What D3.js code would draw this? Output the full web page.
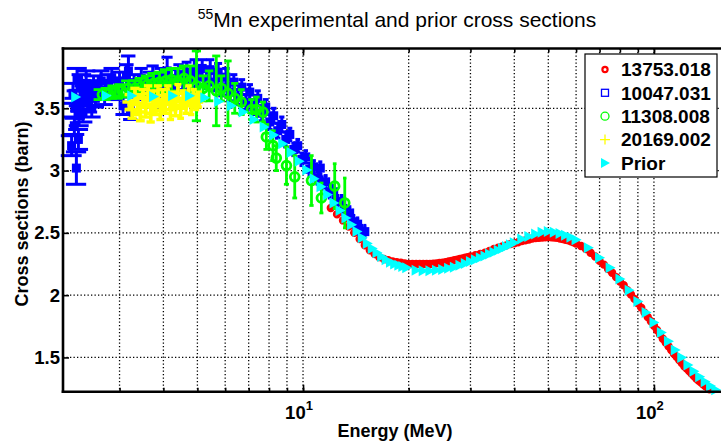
<!DOCTYPE html>
<html>
<head>
<meta charset="utf-8">
<script src="https://cdn.jsdelivr.net/npm/d3@7"></script>
<style>
  body { margin: 0; background: #fff; }
  text { font-family: "Liberation Sans", Arial, Helvetica, sans-serif; }
</style>
</head>
<body>
<script>
//**************************************************************************
//Data

const seriesNames = ["13753.018", "10047.031", "11308.008", "20169.002", "Prior"];

//prior: energy (MeV) and cross section (barn)
const priorEnergy = [2.25, 2.75, 3.25, 3.75, 4.25, 4.75, 5.25, 5.75, 6.25, 6.75, 7.25, 7.75, 8.25, 8.75,
  9.25, 9.75, 10.25, 10.75, 11.25, 11.75, 12.25, 12.75, 13.25, 13.75, 14.25, 14.75, 15.25, 15.75,
  16.25, 16.75, 17.25, 17.75, 18.25, 18.75, 19.25, 19.75, 21, 22, 23, 24, 25, 26, 27, 28, 29, 30,
  31, 32, 33, 34, 35, 36, 37, 38, 39, 40, 42, 44, 46, 48, 50, 52, 54, 56, 58, 60, 65, 70, 75, 80,
  85, 90, 95, 100, 105, 110, 115, 120, 125, 130, 135, 140, 145, 150];
const priorXS = [3.59, 3.60, 3.60, 3.595, 3.60, 3.60, 3.585, 3.555, 3.52, 3.47, 3.41, 3.35, 3.285, 3.215,
  3.145, 3.075, 3.005, 2.935, 2.87, 2.805, 2.74, 2.68, 2.62, 2.565, 2.51, 2.46, 2.415, 2.375,
  2.34, 2.31, 2.285, 2.265, 2.25, 2.24, 2.23, 2.22, 2.20, 2.195, 2.195, 2.20, 2.205, 2.215, 2.225, 2.24, 2.255, 2.27,
  2.285, 2.30, 2.315, 2.33, 2.345, 2.36, 2.375, 2.39, 2.405, 2.42, 2.45, 2.47, 2.49, 2.505, 2.51, 2.505, 2.495, 2.48, 2.465, 2.445,
  2.38, 2.30, 2.22, 2.13, 2.04, 1.95, 1.86, 1.78, 1.70, 1.63, 1.56, 1.50, 1.44, 1.39, 1.345, 1.305, 1.27, 1.24];

//13753.018 (red): [energy, cross section]
const redData = [
  [12, 2.70], [12.5, 2.65], [13, 2.60], [13.5, 2.55], [14, 2.50], [14.5, 2.45], [15, 2.40], [15.5, 2.36],
  [16, 2.33], [16.5, 2.305], [17, 2.29], [17.5, 2.28], [18, 2.27], [18.5, 2.265], [19, 2.26], [19.5, 2.255],
  [20, 2.25], [20.5, 2.25], [21, 2.25], [21.5, 2.25], [22, 2.25], [22.5, 2.25], [23, 2.25], [23.5, 2.252],
  [24, 2.255], [24.5, 2.258], [25, 2.26], [25.5, 2.265], [26, 2.27], [26.5, 2.275], [27, 2.28], [27.5, 2.285],
  [28, 2.29], [28.5, 2.295], [29, 2.30], [29.5, 2.305], [30, 2.31], [31, 2.32], [32, 2.33], [33, 2.34],
  [34, 2.355], [35, 2.37], [36, 2.38], [37, 2.39], [38, 2.40], [39, 2.41], [40, 2.417], [41, 2.425],
  [42, 2.435], [43, 2.44], [44, 2.447], [45, 2.455], [46, 2.458], [47, 2.46], [48, 2.463], [49, 2.465],
  [50, 2.466], [51, 2.465], [52, 2.463], [53, 2.46], [54, 2.455], [55, 2.45], [56, 2.445], [57, 2.44],
  [58, 2.432], [59, 2.425], [60, 2.415], [62, 2.395], [64, 2.37], [66, 2.34], [68, 2.31], [70, 2.275],
  [72, 2.245], [74, 2.21], [76, 2.18], [78, 2.145], [80, 2.11], [82, 2.08], [84, 2.04], [86, 2.005],
  [88, 1.97], [90, 1.935], [92, 1.90], [94, 1.86], [96, 1.825], [98, 1.79], [100, 1.755], [102, 1.72],
  [104, 1.685], [106, 1.65], [108, 1.62], [110, 1.59], [112, 1.56], [114, 1.53], [116, 1.505], [118, 1.48],
  [120, 1.455], [122, 1.43], [124, 1.41], [126, 1.39], [128, 1.37], [130, 1.35], [132, 1.33], [134, 1.315],
  [136, 1.30], [138, 1.285], [140, 1.27], [142, 1.26], [144, 1.245]
];

//10047.031 (blue): [energy, cross section, error]
const blueData = [
  [2.19, 3.20, 0.08], [2.21, 3.62, 0.08], [2.23, 3.36, 0.07], [2.26, 3.02, 0.13], [2.24, 3.50, 0.08],
  [2.27, 3.73, 0.09], [2.29, 3.25, 0.08], [2.30, 3.44, 0.08], [2.32, 3.56, 0.08], [2.34, 3.68, 0.09],
  [2.36, 3.47, 0.08], [2.38, 3.60, 0.08], [2.41, 3.70, 0.10], [2.44, 3.55, 0.08], [2.47, 3.64, 0.08],
  [2.50, 3.50, 0.07], [2.53, 3.68, 0.08], [2.56, 3.58, 0.07], [2.60, 3.65, 0.07], [2.66, 3.72, 0.08],
  [2.72, 3.60, 0.07], [2.78, 3.70, 0.07], [2.85, 3.74, 0.08], [2.92, 3.64, 0.07], [3.00, 3.72, 0.07],
  [3.07, 3.52, 0.07], [3.14, 3.76, 0.09], [3.18, 3.80, 0.12], [3.22, 3.48, 0.07], [3.30, 3.70, 0.07],
  [3.38, 3.66, 0.07], [3.46, 3.74, 0.08], [3.55, 3.64, 0.07], [3.64, 3.72, 0.07], [3.73, 3.76, 0.08],
  [3.82, 3.66, 0.07], [3.92, 3.74, 0.08], [4.02, 3.70, 0.07], [4.10, 3.80, 0.11], [4.20, 3.74, 0.07],
  [4.31, 3.68, 0.07], [4.42, 3.77, 0.08], [4.54, 3.72, 0.07], [4.66, 3.79, 0.08], [4.78, 3.74, 0.07],
  [4.90, 3.81, 0.08], [5.03, 3.75, 0.07], [5.16, 3.82, 0.07], [5.30, 3.73, 0.07], [5.44, 3.81, 0.08],
  [5.58, 3.71, 0.07], [5.73, 3.79, 0.07], [5.88, 3.67, 0.07], [6.03, 3.75, 0.07], [6.19, 3.63, 0.07],
  [6.35, 3.71, 0.06], [6.52, 3.59, 0.06], [6.69, 3.67, 0.06], [6.87, 3.55, 0.06], [7.05, 3.63, 0.06],
  [7.24, 3.51, 0.06], [7.43, 3.58, 0.06], [7.63, 3.46, 0.06], [7.83, 3.51, 0.06], [8.04, 3.39, 0.06],
  [8.25, 3.44, 0.06], [8.47, 3.32, 0.06], [8.70, 3.37, 0.06], [8.93, 3.25, 0.06], [9.17, 3.29, 0.05],
  [9.41, 3.17, 0.05], [9.66, 3.20, 0.05], [9.92, 3.09, 0.05], [10.18, 3.11, 0.05], [10.45, 3.01, 0.05],
  [10.73, 3.03, 0.05], [11.01, 2.94, 0.05], [11.20, 3.02, 0.05], [11.30, 2.90, 0.05], [11.60, 2.91, 0.05],
  [11.91, 2.83, 0.05], [12.23, 2.83, 0.05], [12.55, 2.75, 0.05], [12.89, 2.75, 0.05], [13.23, 2.67, 0.05],
  [13.58, 2.66, 0.05], [13.94, 2.59, 0.05], [14.31, 2.57, 0.05], [14.69, 2.51, 0.05], [15.0, 2.51, 0.05]
];

//11308.008 (green): [energy, cross section, error]
const greenData = [
  [2.68, 3.61, 0.04], [2.80, 3.62, 0.04], [2.92, 3.63, 0.05], [3.05, 3.64, 0.05], [3.18, 3.66, 0.06],
  [3.32, 3.66, 0.06], [3.46, 3.67, 0.07], [3.60, 3.69, 0.07], [3.75, 3.70, 0.08], [3.90, 3.71, 0.08],
  [4.06, 3.72, 0.09], [4.22, 3.73, 0.09], [4.40, 3.72, 0.10], [4.58, 3.74, 0.10], [4.77, 3.72, 0.12],
  [4.97, 3.68, 0.28], [5.19, 3.66, 0.10], [5.40, 3.68, 0.12], [5.66, 3.64, 0.28], [5.85, 3.66, 0.10],
  [6.11, 3.62, 0.26], [6.39, 3.58, 0.12], [6.67, 3.55, 0.10], [7.13, 3.49, 0.08], [7.37, 3.49, 0.10],
  [7.69, 3.47, 0.08], [7.86, 3.27, 0.10], [8.21, 3.20, 0.12], [8.39, 3.10, 0.10], [8.97, 3.04, 0.15],
  [9.47, 2.95, 0.17], [10.57, 2.92, 0.20], [11.28, 2.78, 0.12], [12.31, 2.875, 0.18], [13.15, 2.74, 0.20]
];

//20169.002 (yellow): [energy, cross section, error]
const yellowData = [
  [3.20, 3.55, 0.06], [3.26, 3.49, 0.07], [3.32, 3.60, 0.06], [3.38, 3.53, 0.08], [3.44, 3.47, 0.07],
  [3.50, 3.58, 0.07], [3.56, 3.51, 0.08], [3.62, 3.62, 0.06], [3.68, 3.46, 0.07], [3.74, 3.56, 0.08],
  [3.80, 3.52, 0.07], [3.86, 3.60, 0.08], [3.92, 3.48, 0.07], [3.98, 3.57, 0.08], [4.05, 3.53, 0.07],
  [4.12, 3.61, 0.07], [4.19, 3.49, 0.08], [4.26, 3.56, 0.07], [4.33, 3.52, 0.08], [4.40, 3.62, 0.07],
  [4.48, 3.50, 0.08], [4.56, 3.57, 0.07], [4.64, 3.54, 0.08], [4.72, 3.61, 0.07], [4.80, 3.52, 0.07],
  [4.88, 3.58, 0.07], [4.96, 3.55, 0.06], [5.05, 3.57, 0.06]
];

//axis ticks
const xGridValues = [3, 4, 5, 6, 7, 8, 9, 10, 20, 30, 40, 50, 60, 70, 80, 90, 100];
const xMajorValues = [10, 100];
const yTickValues = [1.5, 2, 2.5, 3, 3.5];

//**************************************************************************
//Canvas

const canvWidth = 721;
const canvHeight = 441;
const plot = {left: 63, right: 733, top: 48.5, bottom: 391.7};

const svg = d3.select("body").append("svg")
  .attr("width", canvWidth)
  .attr("height", canvHeight);

const x = d3.scaleLog().domain([2.07, 168]).range([plot.left, plot.right]);
const y = d3.scaleLinear().domain([1.225, 3.98]).range([plot.bottom, plot.top]);

//****************************
//grid (dotted)
const grid = svg.append("g").attr("id", "grid");
grid.selectAll("line.gx")
  .data(xGridValues)
  .enter().append("line")
  .attr("class", "gx")
  .attr("x1", d => x(d)).attr("x2", d => x(d))
  .attr("y1", plot.top).attr("y2", plot.bottom);
grid.selectAll("line.gy")
  .data(yTickValues)
  .enter().append("line")
  .attr("class", "gy")
  .attr("x1", plot.left).attr("x2", plot.right)
  .attr("y1", d => y(d)).attr("y2", d => y(d));
grid.selectAll("line")
  .attr("stroke", "#000")
  .attr("stroke-width", 1.3)
  .attr("stroke-dasharray", "1.3,2.2");

//****************************
//axes (ticks inward, MATLAB box)
const xMinorBottom = d3.axisBottom(x).tickValues(xGridValues).tickSize(-4).tickFormat("");
const xMinorTop = d3.axisTop(x).tickValues(xGridValues).tickSize(-4).tickFormat("");
const xMajorBottom = d3.axisBottom(x).tickValues(xMajorValues).tickSize(-7).tickFormat("");
const xMajorTop = d3.axisTop(x).tickValues(xMajorValues).tickSize(-7).tickFormat("");

svg.append("g").attr("transform", `translate(0,${plot.bottom})`).call(xMinorBottom);
svg.append("g").attr("transform", `translate(0,${plot.bottom})`).call(xMajorBottom);
svg.append("g").attr("transform", `translate(0,${plot.top})`).call(xMinorTop);
svg.append("g").attr("transform", `translate(0,${plot.top})`).call(xMajorTop);

const yAxis = d3.axisLeft(y).tickValues(yTickValues).tickSize(-6).tickPadding(3)
  .tickFormat(d => String(d));
svg.append("g").attr("id", "y-axis")
  .attr("transform", `translate(${plot.left},0)`)
  .call(yAxis);

svg.selectAll(".domain").remove();
svg.selectAll(".tick line").attr("stroke", "#000").attr("stroke-width", 1.6);
svg.selectAll("#y-axis .tick text")
  .attr("font-size", 18.5)
  .attr("font-weight", "bold")
  .attr("fill", "#000")
  .attr("font-family", "Liberation Sans, Arial, sans-serif");

//x tick labels 10^1, 10^2
xMajorValues.forEach(v => {
  const t = svg.append("text")
    .attr("x", x(v) - 4)
    .attr("y", 419)
    .attr("text-anchor", "middle")
    .attr("font-size", 18.5)
    .attr("font-weight", "bold");
  t.append("tspan").text("10");
  t.append("tspan").attr("font-size", 13).attr("dy", -9).text(String(Math.round(Math.log10(v))));
});

//****************************
//data marks

const dataLayer = svg.append("g").attr("id", "chart-area");

//red 13753.018
dataLayer.append("g").selectAll("circle")
  .data(redData)
  .enter().append("circle")
  .attr("cx", d => x(d[0]))
  .attr("cy", d => y(d[1]))
  .attr("r", 3.4)
  .attr("fill", "#ff0000")
  .attr("stroke", "#ff0000")
  .attr("stroke-width", 1.6);

//error bars helper
let drawErrorBars = (layer, data, color, halfCap, width) => {
  const g = layer.append("g");
  g.selectAll("line.v")
    .data(data)
    .enter().append("line")
    .attr("class", "v")
    .attr("x1", d => x(d[0])).attr("x2", d => x(d[0]))
    .attr("y1", d => y(d[1] - d[2])).attr("y2", d => y(d[1] + d[2]));
  [-1, 1].forEach(s => {
    g.selectAll("line.c" + (s > 0 ? "t" : "b"))
      .data(data)
      .enter().append("line")
      .attr("class", "c" + (s > 0 ? "t" : "b"))
      .attr("x1", d => x(d[0] - halfCap)).attr("x2", d => x(d[0] + halfCap))
      .attr("y1", d => y(d[1] + s * d[2])).attr("y2", d => y(d[1] + s * d[2]));
  });
  g.selectAll("line").attr("stroke", color).attr("stroke-width", width);
  return g;
}

//blue 10047.031
drawErrorBars(dataLayer, blueData, "#0000ff", 0.15, 3);
dataLayer.append("g").selectAll("rect")
  .data(blueData)
  .enter().append("rect")
  .attr("x", d => x(d[0]) - 3)
  .attr("y", d => y(d[1]) - 3)
  .attr("width", 6).attr("height", 6)
  .attr("fill", "#0000ff")
  .attr("stroke", "#0000ff")
  .attr("stroke-width", 3);

//green 11308.008
drawErrorBars(dataLayer, greenData, "#00ff00", 0.15, 2.8);
dataLayer.append("g").selectAll("circle")
  .data(greenData)
  .enter().append("circle")
  .attr("cx", d => x(d[0]))
  .attr("cy", d => y(d[1]))
  .attr("r", 4.4)
  .attr("fill", "none")
  .attr("stroke", "#00ff00")
  .attr("stroke-width", 2.8);

//yellow 20169.002
drawErrorBars(dataLayer, yellowData, "#ffff00", 0.1, 3.4);
dataLayer.append("g").selectAll("path")
  .data(yellowData)
  .enter().append("path")
  .attr("d", d => {
    const cx = x(d[0]), cy = y(d[1]);
    return `M${cx - 7},${cy}H${cx + 7}M${cx},${cy - 7}V${cy + 7}`;
  })
  .attr("stroke", "#ffff00")
  .attr("stroke-width", 3.4);

//prior
const priorPoints = priorEnergy.map((e, i) => [e, priorXS[i]]);
const triangle = (cx, cy) => `M${cx - 4.5},${cy - 5.5}L${cx + 5.5},${cy}L${cx - 4.5},${cy + 5.5}Z`;
dataLayer.append("g").selectAll("path")
  .data(priorPoints)
  .enter().append("path")
  .attr("d", d => triangle(x(d[0]), y(d[1])))
  .attr("fill", "#00ffff");

//****************************
//axes box lines
svg.append("line").attr("x1", plot.left).attr("x2", plot.left).attr("y1", plot.top).attr("y2", plot.bottom);
svg.append("line").attr("x1", plot.left).attr("x2", plot.right).attr("y1", plot.top).attr("y2", plot.top);
svg.append("line").attr("x1", plot.left).attr("x2", plot.right).attr("y1", plot.bottom).attr("y2", plot.bottom);
svg.selectAll("svg > line").attr("stroke", "#000").attr("stroke-width", 2.6).attr("stroke-linecap", "square");

//**************************************************************************
//Title and Labels

const title = svg.append("text")
  .attr("id", "chart-title")
  .attr("x", 397)
  .attr("y", 27)
  .attr("text-anchor", "middle")
  .attr("font-size", 21);
title.append("tspan").attr("font-size", 14).attr("dy", -8).text("55");
title.append("tspan").attr("dy", 8).text("Mn experimental and prior cross sections");

svg.append("text")
  .attr("class", "label-text")
  .attr("x", 395)
  .attr("y", 437)
  .attr("text-anchor", "middle")
  .attr("font-size", 18)
  .attr("font-weight", "bold")
  .text("Energy (MeV)");

svg.append("text")
  .attr("class", "label-text")
  .attr("transform", "translate(28,214) rotate(-90)")
  .attr("text-anchor", "middle")
  .attr("font-size", 18)
  .attr("font-weight", "bold")
  .text("Cross sections (barn)");

//**************************************************************************
//Legend

const legend = svg.append("g").attr("id", "legend");
legend.append("rect")
  .attr("x", 585).attr("y", 54)
  .attr("width", 132).attr("height", 123)
  .attr("fill", "#fff")
  .attr("stroke", "#000")
  .attr("stroke-width", 1.2);

const legendY = [69.5, 92.8, 116.2, 139.6, 163];
const mx = 605;
legend.append("circle").attr("cx", mx).attr("cy", legendY[0]).attr("r", 2.6)
  .attr("fill", "none").attr("stroke", "#ff0000").attr("stroke-width", 2.2);
legend.append("rect").attr("x", mx - 3.5).attr("y", legendY[1] - 3.5).attr("width", 7).attr("height", 7)
  .attr("fill", "none").attr("stroke", "#0000ff").attr("stroke-width", 1.3);
legend.append("circle").attr("cx", mx).attr("cy", legendY[2]).attr("r", 4)
  .attr("fill", "none").attr("stroke", "#00ff00").attr("stroke-width", 1.3);
legend.append("path").attr("d", `M${mx - 5},${legendY[3]}H${mx + 5}M${mx},${legendY[3] - 5}V${legendY[3] + 5}`)
  .attr("stroke", "#ffff00").attr("stroke-width", 1.3);
legend.append("path").attr("d", `M${mx - 4},${legendY[4] - 5}L${mx + 5},${legendY[4]}L${mx - 4},${legendY[4] + 5}Z`)
  .attr("fill", "#00ffff");

legend.selectAll("text.legend-label")
  .data(seriesNames)
  .enter().append("text")
  .attr("class", "legend-label")
  .attr("x", 621)
  .attr("y", (d, i) => legendY[i])
  .attr("dy", "0.36em")
  .attr("font-size", 19)
  .attr("font-weight", "bold")
  .text(d => d);
</script>
</body>
</html>
